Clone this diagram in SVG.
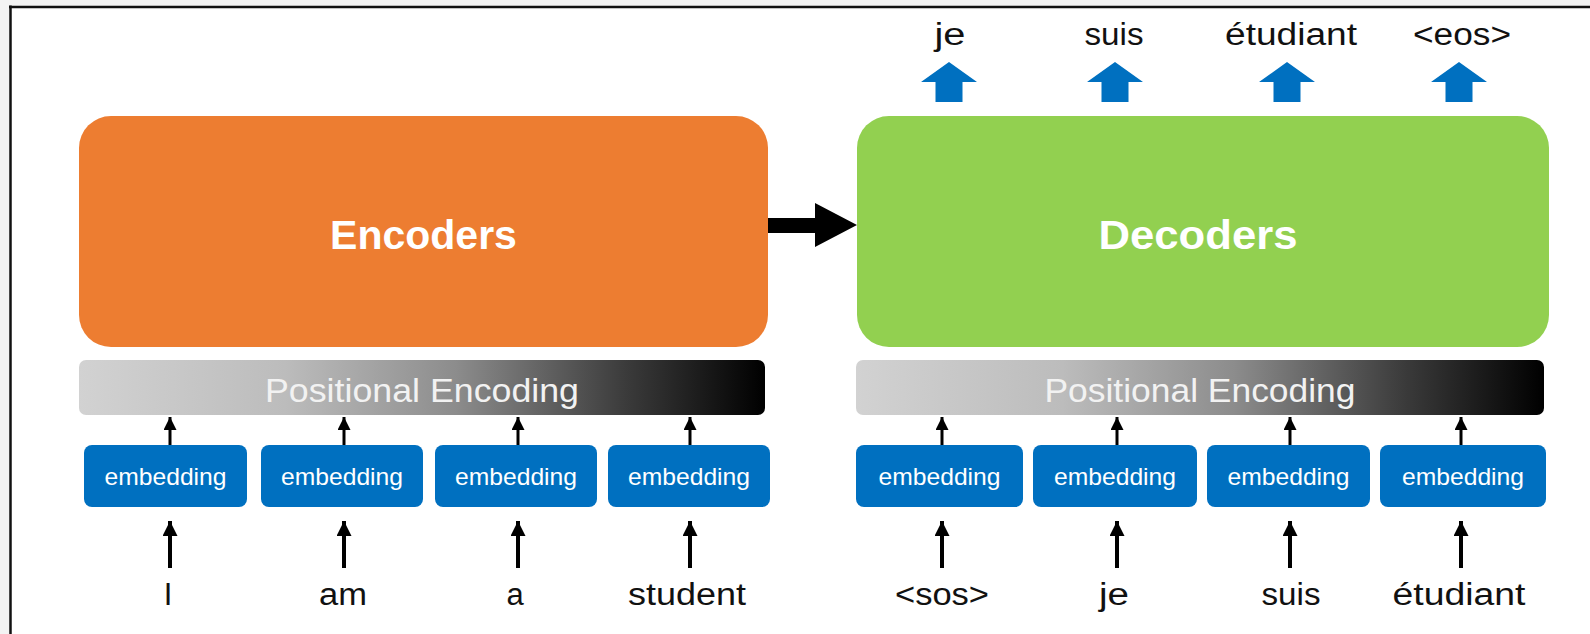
<svg xmlns="http://www.w3.org/2000/svg" width="1590" height="634" viewBox="0 0 1590 634">
<style>
.big{font-family:"Liberation Sans",Arial,sans-serif;font-weight:bold;font-size:41px;fill:#ffffff;text-anchor:middle}
.pe{font-family:"Liberation Sans",Arial,sans-serif;font-size:33px;fill:#f2f2f2;text-anchor:middle}
.emb{font-family:"Liberation Sans",Arial,sans-serif;font-size:24px;fill:#ffffff;text-anchor:middle}
.lbl{font-family:"Liberation Sans",Arial,sans-serif;font-size:31px;fill:#111111;text-anchor:middle}
.embbox{fill:#0070C0}
.thin{stroke:#000;stroke-width:3;fill:none}
.thick{stroke:#000;stroke-width:4;fill:none}
</style>
<defs>
<linearGradient id="peg" x1="0" y1="0" x2="1" y2="0">
<stop offset="0" stop-color="#d2d2d2"/>
<stop offset="0.3" stop-color="#bcbcbc"/>
<stop offset="0.55" stop-color="#8c8c8c"/>
<stop offset="0.8" stop-color="#3a3a3a"/>
<stop offset="1" stop-color="#000000"/>
</linearGradient>
<marker id="hs" viewBox="0 0 10 10" refX="10" refY="5" markerWidth="15" markerHeight="13" markerUnits="userSpaceOnUse" orient="auto">
<path d="M0,0 L10,5 L0,10 z" fill="#000"/>
</marker>
<marker id="hb" viewBox="0 0 10 10" refX="10" refY="5" markerWidth="16" markerHeight="15" markerUnits="userSpaceOnUse" orient="auto">
<path d="M0,0 L10,5 L0,10 z" fill="#000"/>
</marker>
<path id="blueArrow" d="M0,62 L28,82 L13.5,82 L13.5,102 L-13.5,102 L-13.5,82 L-28,82 z" fill="#0070C0"/>
</defs>

<rect x="0" y="0" width="1590" height="634" fill="#f3f3f3"/>
<rect x="10" y="7" width="1580" height="627" fill="#ffffff"/>
<line x1="10.5" y1="5.5" x2="10.5" y2="634" stroke="#111" stroke-width="2.5"/>
<line x1="9" y1="7" x2="1590" y2="7" stroke="#111" stroke-width="2.5"/>

<g id="encoders">
<rect x="79" y="116" width="689" height="231" rx="32" fill="#ED7D31"/>
<text class="big" x="423.5" y="249">Encoders</text>
</g>
<g id="decoders">
<rect x="857" y="116" width="692" height="231" rx="32" fill="#92D050"/>
<text class="big" x="1198" y="249" textLength="199" lengthAdjust="spacingAndGlyphs">Decoders</text>
</g>

<g id="enc-pe">
<rect x="79" y="360" width="686" height="55" rx="7" fill="url(#peg)"/>
<text class="pe" x="422" y="402" textLength="314" lengthAdjust="spacingAndGlyphs">Positional Encoding</text>
</g>
<g id="dec-pe">
<rect x="856" y="360" width="688" height="55" rx="7" fill="url(#peg)"/>
<text class="pe" x="1200" y="402" textLength="311" lengthAdjust="spacingAndGlyphs">Positional Encoding</text>
</g>

<g id="enc-emb-1"><rect class="embbox" x="84" y="445" width="163" height="62" rx="8"/><text class="emb" x="165.5" y="485" textLength="122" lengthAdjust="spacingAndGlyphs">embedding</text></g>
<g id="enc-emb-2"><rect class="embbox" x="261" y="445" width="162" height="62" rx="8"/><text class="emb" x="342" y="485" textLength="122" lengthAdjust="spacingAndGlyphs">embedding</text></g>
<g id="enc-emb-3"><rect class="embbox" x="435" y="445" width="162" height="62" rx="8"/><text class="emb" x="516" y="485" textLength="122" lengthAdjust="spacingAndGlyphs">embedding</text></g>
<g id="enc-emb-4"><rect class="embbox" x="608" y="445" width="162" height="62" rx="8"/><text class="emb" x="689" y="485" textLength="122" lengthAdjust="spacingAndGlyphs">embedding</text></g>

<g id="dec-emb-1"><rect class="embbox" x="856" y="445" width="167" height="62" rx="8"/><text class="emb" x="939.5" y="485" textLength="122" lengthAdjust="spacingAndGlyphs">embedding</text></g>
<g id="dec-emb-2"><rect class="embbox" x="1033" y="445" width="164" height="62" rx="8"/><text class="emb" x="1115" y="485" textLength="122" lengthAdjust="spacingAndGlyphs">embedding</text></g>
<g id="dec-emb-3"><rect class="embbox" x="1207" y="445" width="163" height="62" rx="8"/><text class="emb" x="1288.5" y="485" textLength="122" lengthAdjust="spacingAndGlyphs">embedding</text></g>
<g id="dec-emb-4"><rect class="embbox" x="1380" y="445" width="166" height="62" rx="8"/><text class="emb" x="1463" y="485" textLength="122" lengthAdjust="spacingAndGlyphs">embedding</text></g>

<g id="enc-inputs">
<text class="lbl" x="168" y="605">I</text>
<text class="lbl" x="343" y="605" textLength="48" lengthAdjust="spacingAndGlyphs">am</text>
<text class="lbl" x="515" y="605">a</text>
<text class="lbl" x="687" y="605" textLength="118" lengthAdjust="spacingAndGlyphs">student</text>
</g>
<g id="dec-inputs">
<text class="lbl" x="942" y="605" textLength="94" lengthAdjust="spacingAndGlyphs">&lt;sos&gt;</text>
<text class="lbl" x="1114" y="605" textLength="30" lengthAdjust="spacingAndGlyphs">je</text>
<text class="lbl" x="1291" y="605" textLength="59" lengthAdjust="spacingAndGlyphs">suis</text>
<text class="lbl" x="1459" y="605" textLength="133" lengthAdjust="spacingAndGlyphs">étudiant</text>
</g>
<g id="dec-outputs">
<text class="lbl" x="950" y="45" textLength="31" lengthAdjust="spacingAndGlyphs">je</text>
<text class="lbl" x="1114" y="45" textLength="59" lengthAdjust="spacingAndGlyphs">suis</text>
<text class="lbl" x="1291" y="45" textLength="132" lengthAdjust="spacingAndGlyphs">étudiant</text>
<text class="lbl" x="1462" y="45" textLength="98" lengthAdjust="spacingAndGlyphs">&lt;eos&gt;</text>
</g>

<g id="connectors">
<polygon points="768,218 815,218 815,203 857,225 815,247 815,233 768,233" fill="#000"/>
<use href="#blueArrow" x="949"/>
<use href="#blueArrow" x="1115"/>
<use href="#blueArrow" x="1287"/>
<use href="#blueArrow" x="1459"/>
<line class="thin" x1="170" y1="445" x2="170" y2="417" marker-end="url(#hs)"/>
<line class="thin" x1="344" y1="445" x2="344" y2="417" marker-end="url(#hs)"/>
<line class="thin" x1="518" y1="445" x2="518" y2="417" marker-end="url(#hs)"/>
<line class="thin" x1="690" y1="445" x2="690" y2="417" marker-end="url(#hs)"/>
<line class="thin" x1="942" y1="445" x2="942" y2="417" marker-end="url(#hs)"/>
<line class="thin" x1="1117" y1="445" x2="1117" y2="417" marker-end="url(#hs)"/>
<line class="thin" x1="1290" y1="445" x2="1290" y2="417" marker-end="url(#hs)"/>
<line class="thin" x1="1461" y1="445" x2="1461" y2="417" marker-end="url(#hs)"/>
<line class="thick" x1="170" y1="568" x2="170" y2="521" marker-end="url(#hb)"/>
<line class="thick" x1="344" y1="568" x2="344" y2="521" marker-end="url(#hb)"/>
<line class="thick" x1="518" y1="568" x2="518" y2="521" marker-end="url(#hb)"/>
<line class="thick" x1="690" y1="568" x2="690" y2="521" marker-end="url(#hb)"/>
<line class="thick" x1="942" y1="568" x2="942" y2="521" marker-end="url(#hb)"/>
<line class="thick" x1="1117" y1="568" x2="1117" y2="521" marker-end="url(#hb)"/>
<line class="thick" x1="1290" y1="568" x2="1290" y2="521" marker-end="url(#hb)"/>
<line class="thick" x1="1461" y1="568" x2="1461" y2="521" marker-end="url(#hb)"/>
</g>
</svg>
